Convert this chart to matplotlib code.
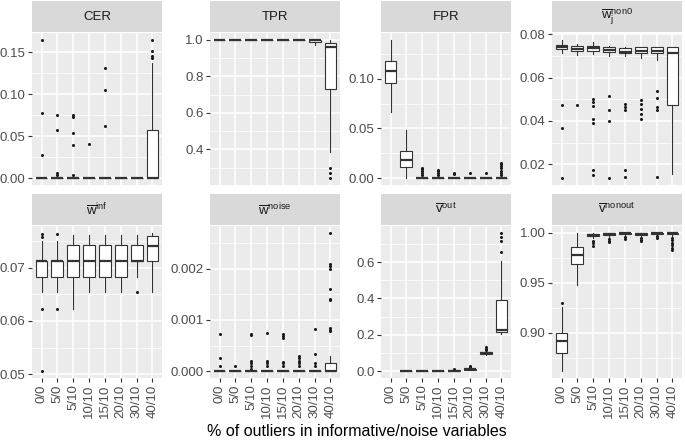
import matplotlib
matplotlib.use("Agg")
from matplotlib import pyplot as plt

plt.rcParams['font.family'] = ['Liberation Sans', 'DejaVu Sans']
plt.rcParams['mathtext.fontset'] = 'custom'
plt.rcParams['mathtext.rm'] = 'Liberation Sans'
plt.rcParams['mathtext.it'] = 'Liberation Sans'
plt.rcParams['mathtext.default'] = 'regular'

categories = ["0/0", "5/0", "5/10", "10/10", "15/10", "20/10", "30/10", "40/10"]

titles = ["CER", "TPR", "FPR", r"$\overline{w}_j^{non0}$",
          r"$\overline{w}^{inf}$", r"$\overline{w}^{noise}$",
          r"$\overline{v}^{out}$", r"$\overline{v}^{nonout}$"]

# box stats per category: (q1, median, q3, whisker low, whisker high)
cer_box = [(0, 0, 0, 0, 0)] * 7 + [(0, 0, 0.057, 0, 0.138)]
cer_out = [[0.165, 0.078, 0.027], [0.075, 0.057, 0.006, 0.004],
           [0.075, 0.073, 0.054, 0.040, 0.004], [0.041],
           [0.131, 0.105, 0.062], [], [], [0.143, 0.146, 0.152, 0.165]]

tpr_box = [(1, 1, 1, 1, 1)] * 6 + [(0.99, 1, 1, 0.97, 1), (0.732, 0.963, 0.985, 0.387, 1.0)]
tpr_out = [[], [], [], [], [], [], [], [0.296, 0.269, 0.242]]

fpr_box = [(0.096, 0.1076, 0.118, 0.066, 0.139), (0.011, 0.0177, 0.0277, 0.0, 0.048)] + [(0, 0, 0, 0, 0)] * 6
fpr_out = [[], [], [0.003, 0.005, 0.007, 0.009, 0.010], [0.003, 0.005, 0.007, 0.008],
           [0.004, 0.005], [0.005], [0.005], [0.003, 0.005, 0.007, 0.010, 0.012, 0.014, 0.015]]

wnon0_box = [(0.0730, 0.0740, 0.0751, 0.0715, 0.0774), (0.0722, 0.0733, 0.0745, 0.0705, 0.0755),
             (0.0722, 0.0735, 0.0748, 0.0710, 0.0765), (0.0718, 0.0728, 0.0742, 0.0700, 0.0745),
             (0.0712, 0.0720, 0.0735, 0.0700, 0.0742), (0.0715, 0.0725, 0.0742, 0.0690, 0.0742),
             (0.0712, 0.0722, 0.0742, 0.0680, 0.0742), (0.0472, 0.0713, 0.0739, 0.0154, 0.0742)]
wnon0_out = [[0.0472, 0.0368, 0.0136], [0.0475],
             [0.0499, 0.0487, 0.0467, 0.0408, 0.0391, 0.0175, 0.0148],
             [0.0514, 0.0452, 0.0400, 0.0136], [0.0476, 0.0464, 0.0449, 0.0174, 0.0143],
             [0.0498, 0.0476, 0.0456, 0.0434, 0.0410], [0.0540, 0.0505, 0.0464, 0.0452, 0.0139], []]

winf_box = [(0.0683, 0.0713, 0.0713, 0.0654, 0.0749), (0.0683, 0.0713, 0.0713, 0.0654, 0.0749),
            (0.0683, 0.0713, 0.0742, 0.0622, 0.0762), (0.0683, 0.0713, 0.0742, 0.0654, 0.0762),
            (0.0683, 0.0713, 0.0742, 0.0654, 0.0762), (0.0683, 0.0713, 0.0742, 0.0654, 0.0762),
            (0.0712, 0.0713, 0.0742, 0.0683, 0.0762), (0.0713, 0.0741, 0.0759, 0.0654, 0.0765)]
winf_out = [[0.0763, 0.0757, 0.0622, 0.0506], [0.0763, 0.0622], [], [], [], [], [0.0654], []]

wnoise_box = [(0, 0, 0, 0, 0)] * 7 + [(0, 0, 0.00015, 0, 0.0003)]
wnoise_out = [[0.00072, 0.00025, 0.0001], [0.0001],
              [0.00073, 0.0007, 0.0002, 0.00015, 0.0001, 0.00005],
              [0.00075, 0.0002, 0.00015, 0.0001],
              [0.00072, 0.00068, 0.00065, 0.00018, 0.00015, 0.0001],
              [0.0003, 0.00025, 0.0002, 0.00015, 0.0001], [0.00083, 0.00033, 0.00015, 0.0001],
              [0.0027, 0.0021, 0.00205, 0.002, 0.0016, 0.0014, 0.00138, 0.00085, 0.0008, 0.00078]]

vout_box = [None, (0, 0, 0, 0, 0), (0, 0, 0, 0, 0), (0, 0.001, 0.002, 0, 0.003),
            (0.001, 0.002, 0.004, 0, 0.006), (0.008, 0.01, 0.013, 0.004, 0.016),
            (0.095, 0.1, 0.104, 0.09, 0.108), (0.218, 0.225, 0.39, 0.205, 0.607)]
vout_out = [[], [], [], [], [0.009], [0.022, 0.028], [0.115, 0.122, 0.133],
            [0.654, 0.7175, 0.739, 0.761]]

vnon_box = [(0.880, 0.8917, 0.900, 0.8617, 0.926), (0.9693, 0.9783, 0.9857, 0.9483, 1.0),
            (0.997, 0.998, 0.999, 0.995, 1.0), (0.998, 0.999, 1.0, 0.996, 1.0),
            (0.999, 0.9995, 1.0, 0.997, 1.0), (0.998, 0.999, 1.0, 0.996, 1.0),
            (0.999, 0.9995, 1.0, 0.998, 1.0), (0.999, 1.0, 1.0, 0.997, 1.0)]
vnon_out = [[0.930], [], [0.992, 0.990, 0.987], [0.994, 0.992, 0.991], [0.996, 0.994],
            [0.995, 0.993, 0.992], [0.997, 0.995], [0.995, 0.993, 0.990, 0.988, 0.985, 0.983]]

yticks = [[0, 0.05, 0.10, 0.15], [0.4, 0.6, 0.8, 1.0], [0, 0.05, 0.10], [0.02, 0.04, 0.06, 0.08],
          [0.05, 0.06, 0.07], [0, 0.001, 0.002], [0, 0.2, 0.4, 0.6], [0.90, 0.95, 1.00]]
yfmt = ["%.2f", "%.1f", "%.2f", "%.2f", "%.2f", "%.3f", "%.1f", "%.2f"]

panels = [(cer_box, cer_out), (tpr_box, tpr_out), (fpr_box, fpr_out), (wnon0_box, wnon0_out),
          (winf_box, winf_out), (wnoise_box, wnoise_out), (vout_box, vout_out), (vnon_box, vnon_out)]

W, H = 685, 443
fig = plt.figure(figsize=(W / 100, H / 100), dpi=100)

col_x = [32, 210, 381, 552]
pw, ph = 130, 152
row_top = [33, 226]
strip_h = 31
edge = "#333333"

for k, (boxes, outs) in enumerate(panels):
    r, c = divmod(k, 4)
    x0, top = col_x[c], row_top[r]
    ax = fig.add_axes([x0 / W, 1 - (top + ph) / H, pw / W, ph / H])
    sax = fig.add_axes([x0 / W, 1 - (top - 1) / H, pw / W, strip_h / H])
    sax.set_facecolor("#D9D9D9")
    sax.set_xticks([]); sax.set_yticks([])
    for s in sax.spines.values():
        s.set_visible(False)
    sax.text(0.5, 0.5, titles[k], ha="center", va="center", fontsize=9.5, color="#1A1A1A",
             transform=sax.transAxes)

    stats, pos, allv = [], [], []
    for i, b in enumerate(boxes):
        if b is None:
            continue
        q1, med, q3, lo, hi = b
        stats.append(dict(q1=q1, med=med, q3=q3, whislo=lo, whishi=hi, fliers=outs[i]))
        pos.append(i + 1)
        allv += [lo, hi] + outs[i]
    ax.bxp(stats, positions=pos, widths=0.75, patch_artist=True, showcaps=False,
           boxprops=dict(facecolor="white", edgecolor=edge, lw=0.8),
           medianprops=dict(color=edge, lw=1.6, solid_capstyle="butt"),
           whiskerprops=dict(color=edge, lw=0.8),
           flierprops=dict(marker="o", markersize=2.2, markerfacecolor="#1A1A1A",
                           markeredgecolor="none"))

    lo, hi = min(allv), max(allv)
    pad = (hi - lo) * 0.05
    ax.set_xlim(0.4, 8.6)
    t = yticks[k]
    ax.set_yticks(t)
    ax.set_yticklabels([yfmt[k] % v for v in t])
    step = t[1] - t[0]
    ax.set_yticks([t[0] - step / 2] + [v + step / 2 for v in t], minor=True)
    ax.set_ylim(lo - pad, hi + pad)
    ax.set_xticks(range(1, 9))
    ax.set_facecolor("#EBEBEB")
    ax.set_axisbelow(True)
    ax.grid(which="major", color="white", lw=1.1)
    ax.grid(which="minor", axis="y", color="white", lw=0.55)
    for s in ax.spines.values():
        s.set_visible(False)
    ax.tick_params(which="major", color=edge, length=2.75, width=0.8,
                   labelcolor="#4D4D4D", labelsize=9.5, pad=2)
    ax.tick_params(which="minor", length=0)
    if r == 0:
        ax.tick_params(axis="x", length=0, labelbottom=False)
    else:
        ax.set_xticklabels(categories, rotation=90)

fig.text(357 / W, 1 - 431 / H, "% of outliers in informative/noise variables",
         ha="center", va="center", fontsize=11.5, color="black")

fig.savefig("out.png", dpi=100)
